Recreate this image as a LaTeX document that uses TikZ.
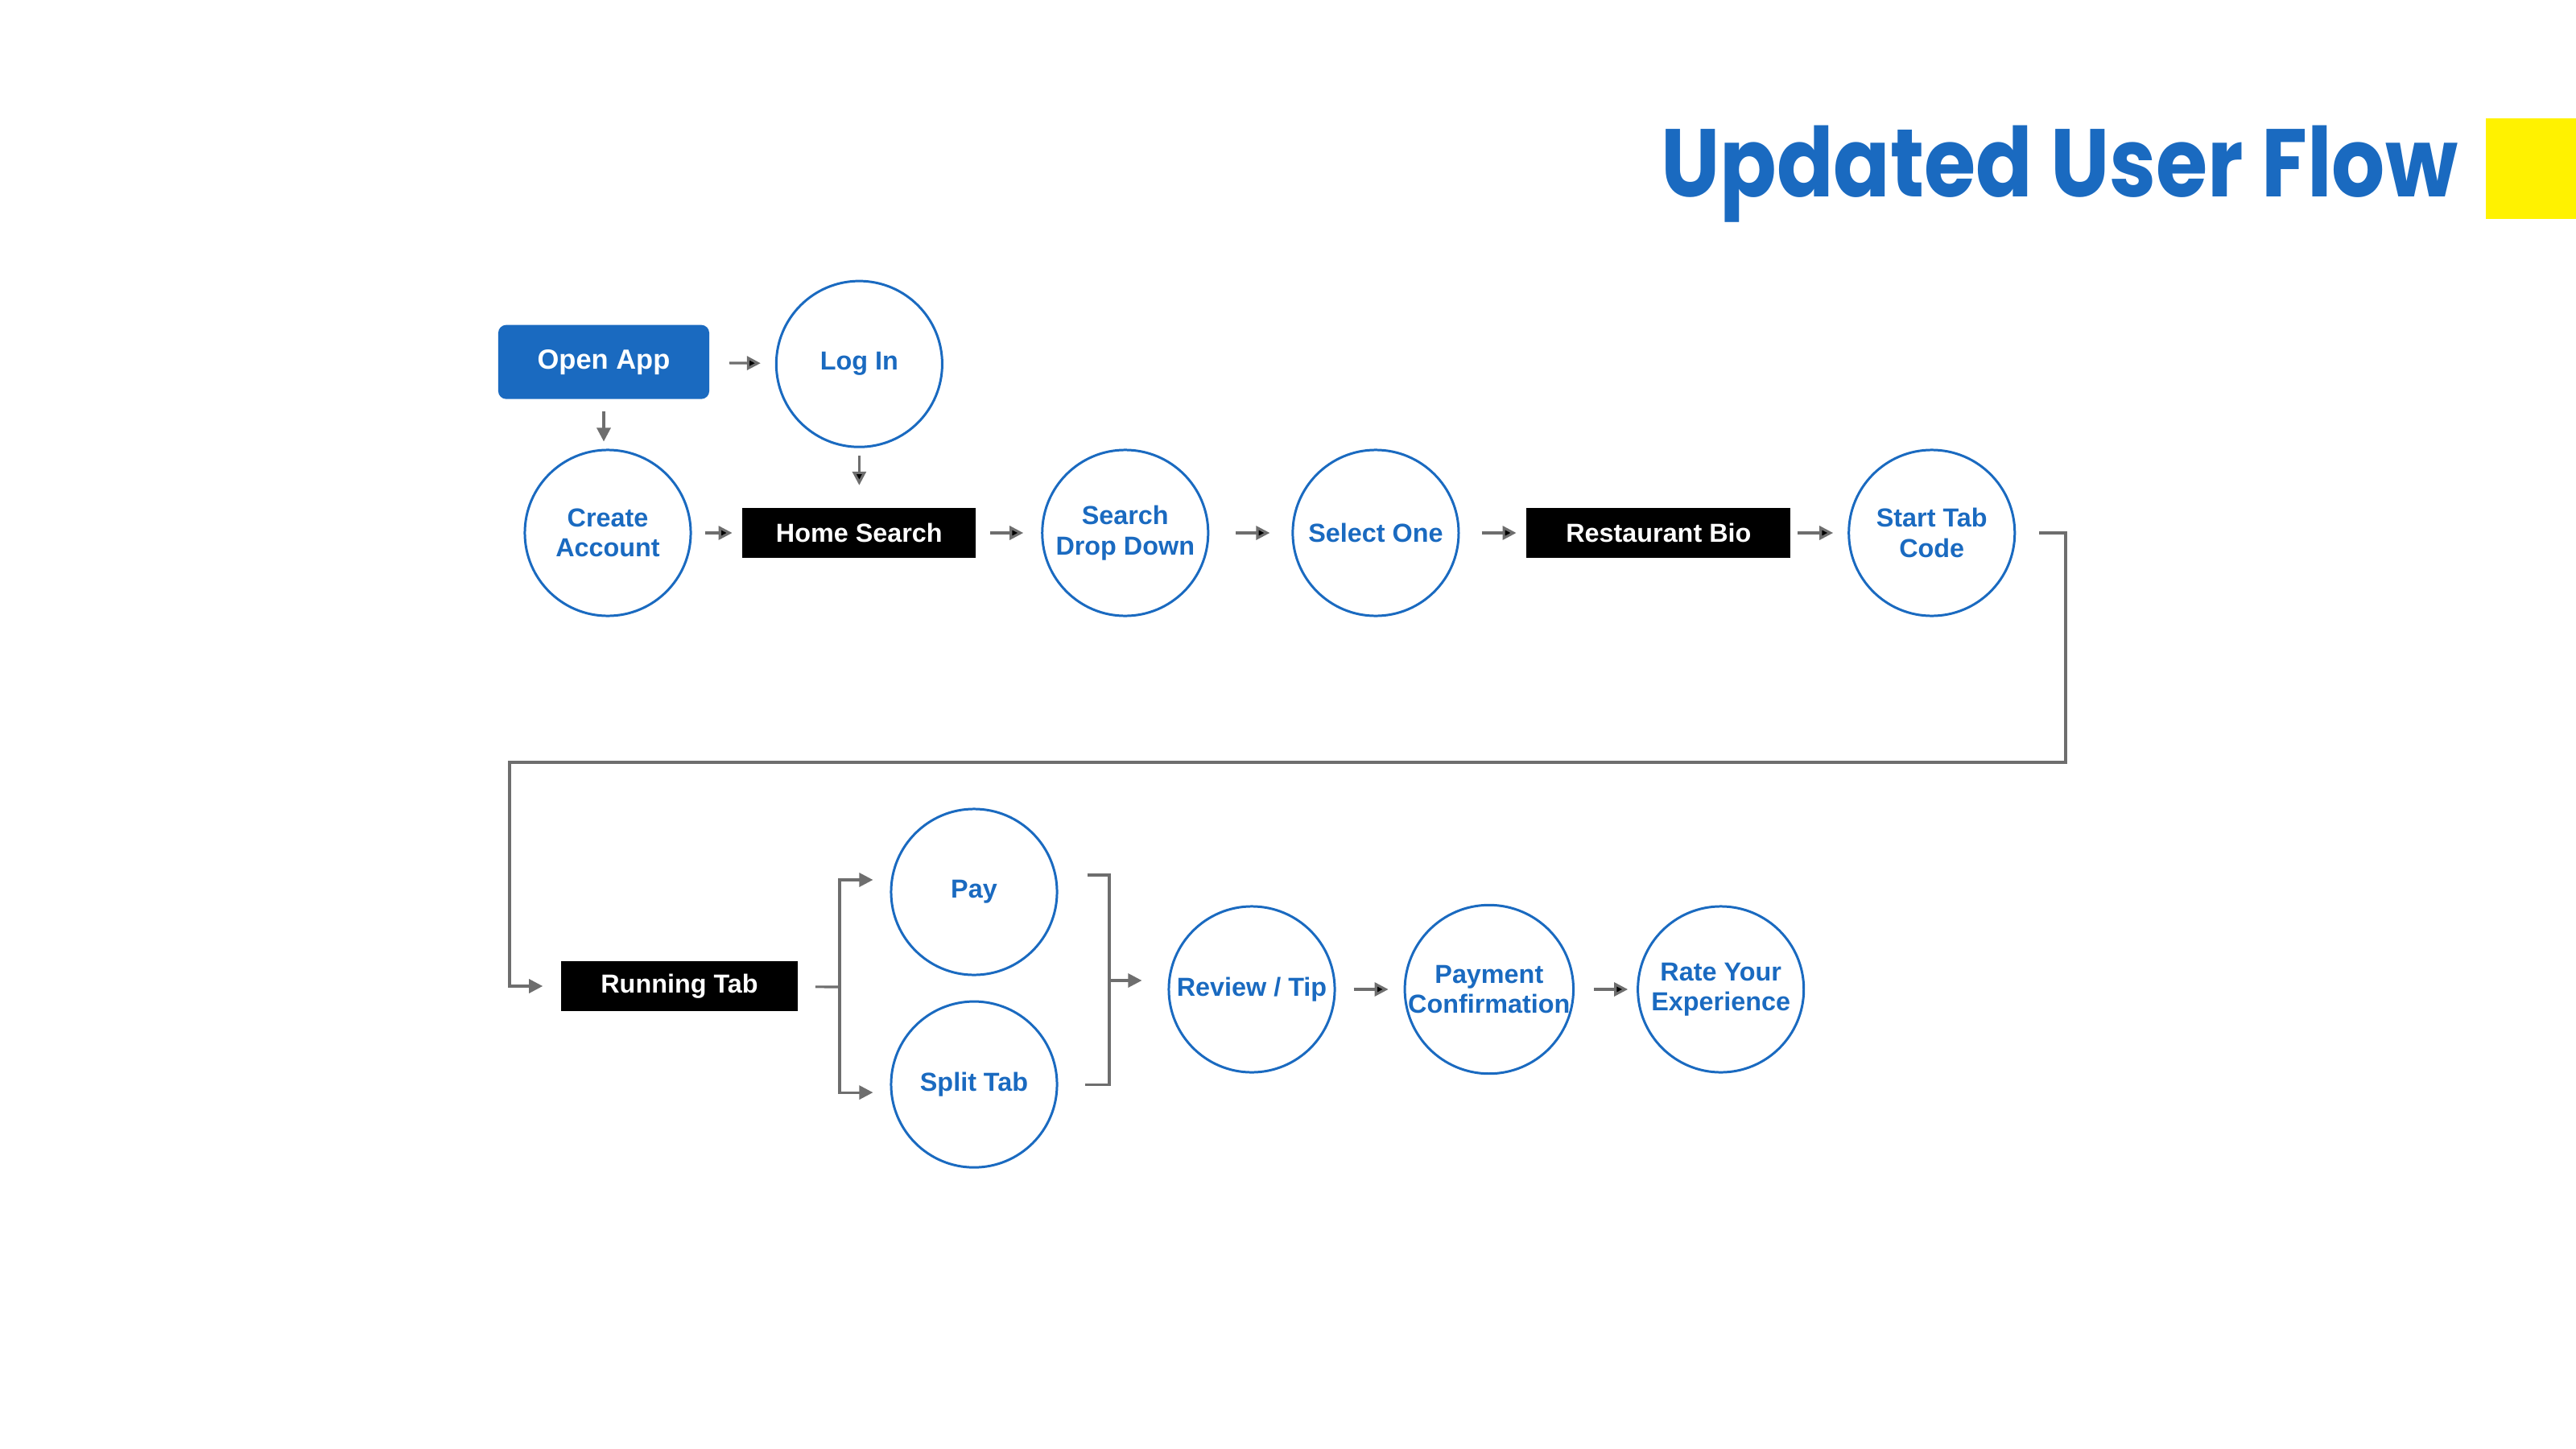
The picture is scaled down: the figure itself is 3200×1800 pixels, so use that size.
\documentclass[tikz,border=0pt]{standalone}
\usepackage{fontspec}
\setmainfont{Liberation Sans}
\newfontfamily\titlefont{Poppins}[FakeStretch=0.87]
\usepackage{tikz}
\usetikzlibrary{arrows.meta,positioning}
\definecolor{flowblue}{RGB}{26,106,192}
\definecolor{flowgray}{RGB}{110,110,110}
\tikzset{
    %Define standard arrow tip
    >={Triangle[length=0.17cm,width=0.17cm]},
    %Define style for circles
    screen/.style={
           circle,
           draw=flowblue, line width=0.85pt,
           minimum size=2.06cm,
           inner sep=0pt,
           font=\fontsize{9.2}{10.6}\selectfont\bfseries,
           text=flowblue,
           align=center},
    %Define style for black boxes
    page/.style={
           rectangle,
           fill=black,
           minimum height=0.61cm,
           font=\fontsize{9.2}{10.6}\selectfont\bfseries,
           text=white},
    entry/.style={
           rectangle,
           rounded corners=0.1cm,
           fill=flowblue,
           minimum width=2.62cm,
           minimum height=0.92cm,
           font=\fontsize{9.8}{11}\selectfont\bfseries,
           text=white},
    % Define arrow style
    pil/.style={
           ->,
           draw=flowgray,
           line width=0.9pt},
    wire/.style={
           draw=flowgray,
           line width=0.9pt}
}
\begin{document}
\begin{tikzpicture}[x=0.01cm,y=0.01cm]
\useasboundingbox (0,0) rectangle (3200,-1800);
%title
\fill[yellow] (3088,-147) rectangle (3200,-272);
\node[anchor=base east, inner sep=0pt, text=flowblue,
  font=\titlefont\fontsize{34}{40}\selectfont\bfseries] (t) at (3054,-245) {Updated User Flow};
 %nodes
\node[screen] (2) at (755,-662) {Create\\Account};
\node[entry, above=0.61cm of 2, xshift=-0.05cm] (1) {Open App};
\node[page, minimum width=2.90cm, right=0.62cm of 2] (4) {Home Search};
\node[screen, above=0.74cm of 4] (3) {Log In};
\node[screen, right=0.80cm of 4] (5) {Search\\Drop Down};
\node[screen, right=1.02cm of 5] (6) {Select One};
\node[page, minimum width=3.28cm, right=0.82cm of 6] (7) {Restaurant Bio};
\node[screen, right=0.70cm of 7] (8) {Start Tab\\Code};
\node[page, minimum width=2.94cm] (9) at (844,-1225) {Running Tab};
\node[screen] (10) at (1210,-1108) {Pay};
\node[screen, below=0.30cm of 10] (11) {Split Tab};
\node[screen] (12) at (1555,-1229) {Review / Tip};
\node[screen, right=0.84cm of 12] (13) {Payment\\Confirmation};
\node[screen, right=0.77cm of 13] (14) {Rate Your\\Experience};
 %turns
\coordinate (a) at (2566,-947);
\coordinate (b) at (633,-947);
\coordinate (c) at (1043,-1226);
\coordinate (d) at (1378,-1218);
 %arrows
\path[pil]
    (1) edge[shorten <=0.24cm, shorten >=0.18cm] (3)
    (3) edge[shorten <=0.09cm, shorten >=0.28cm] (4)
    (2) edge[shorten <=0.16cm, shorten >=0.12cm] (4)
    (4) edge[shorten <=0.17cm, shorten >=0.22cm] (5)
    (5) edge[shorten <=0.33cm, shorten >=0.27cm] (6)
    (6) edge[shorten <=0.27cm, shorten >=0.12cm] (7)
    (7) edge[shorten <=0.08cm, shorten >=0.18cm] (8)
    (12) edge[shorten <=0.22cm, shorten >=0.19cm] (13)
    (13) edge[shorten <=0.24cm, shorten >=0.11cm] (14);
\draw[pil, shorten <=0.15cm, shorten >=0.09cm] (1.south) -- (1.south |- 2.north);
\draw[pil, shorten <=0.29cm, shorten >=0.22cm] (8) -- (8 -| a) -- (a) -- (b) -- (b |- 9) -- (9);
\draw[wire, shorten <=0.21cm] (9) -- (c);
\draw[pil, shorten >=0.21cm] (c) |- ([yshift=0.15cm]10.west);
\draw[pil, shorten >=0.21cm] (c) |- ([yshift=-0.10cm]11.west);
\draw[wire] ([xshift=0.36cm,yshift=0.21cm]10.east) -| (d) |- ([xshift=0.33cm]11.east);
\draw[pil, shorten >=0.32cm] (d) -- (d -| 12.west);
\end{tikzpicture}
\end{document}
